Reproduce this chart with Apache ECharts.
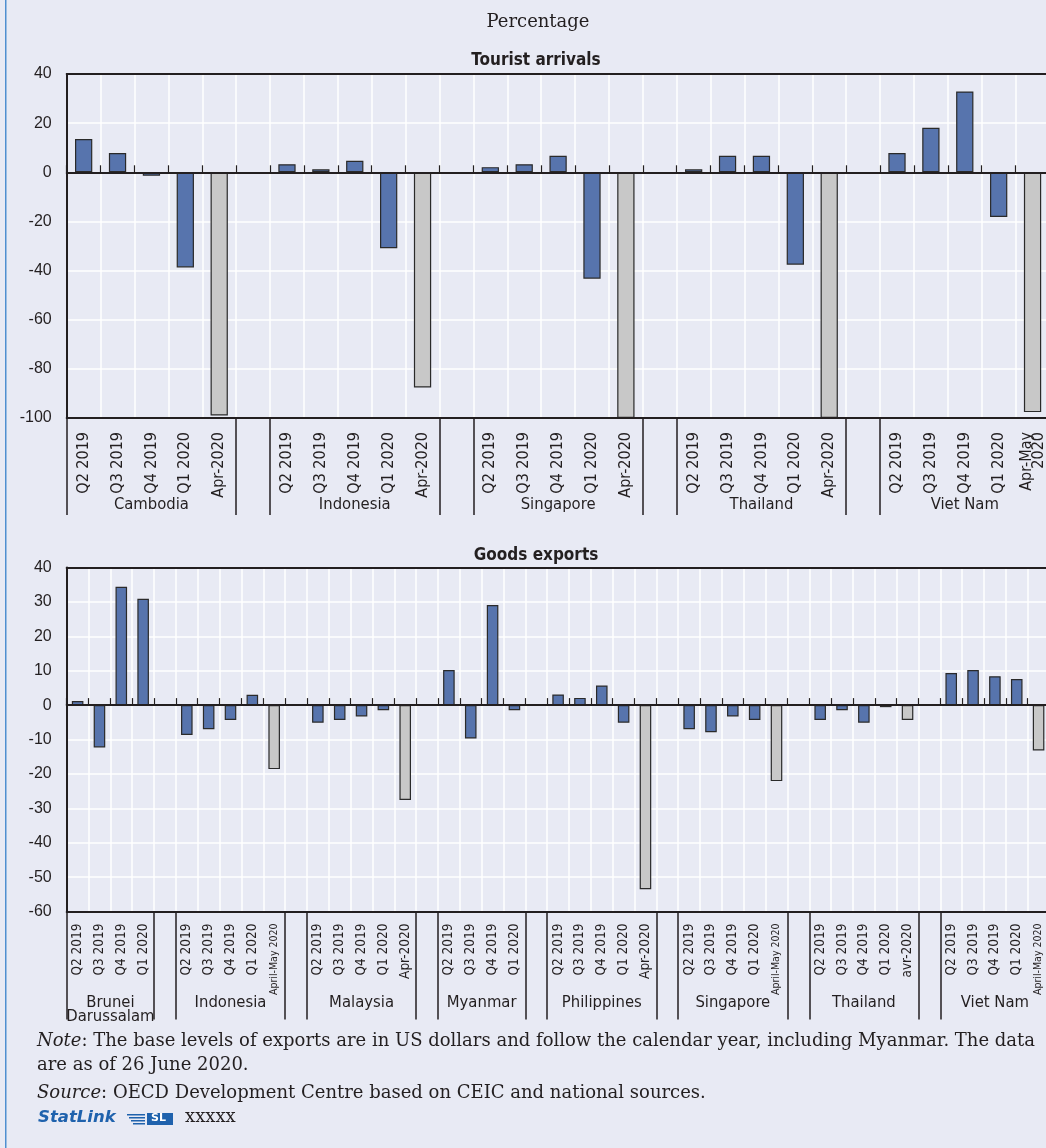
<!DOCTYPE html>
<html><head><meta charset="utf-8">
<script src="https://cdn.jsdelivr.net/npm/echarts@6/dist/echarts.min.js"></script>
<style>html,body{margin:0;padding:0;background:#e8eaf4;} #c{width:1046px;height:1148px;}</style>
</head><body><div id="c"></div>
<script>
// ---------- DATA ----------
const touristGroups = ['Cambodia', 'Indonesia', 'Singapore', 'Thailand', 'Viet Nam'];
const touristPeriods = ['Q2 2019', 'Q3 2019', 'Q4 2019', 'Q1 2020', 'Apr-2020'];
const touristPeriodsVietNam = ['Q2 2019', 'Q3 2019', 'Q4 2019', 'Q1 2020', 'Apr-May\n2020'];
const tourCambodia  = [13.5, 7.8, -1.4, -38.7, -99.0];
const tourIndonesia = [3.3, 1.2, 4.7, -30.9, -87.6];
const tourSingapore = [2.1, 3.3, 6.7, -43.3, -100.0];
const tourThailand  = [1.2, 6.7, 6.7, -37.6, -100.0];
const tourVietNam   = [7.8, 18.1, 32.9, -18.2, -97.6];

const exportGroups = ['Brunei\nDarussalam', 'Indonesia', 'Malaysia', 'Myanmar', 'Philippines', 'Singapore', 'Thailand', 'Viet Nam'];
const periodsBrunei      = ['Q2 2019', 'Q3 2019', 'Q4 2019', 'Q1 2020'];
const periodsIndonesia   = ['Q2 2019', 'Q3 2019', 'Q4 2019', 'Q1 2020', 'April-May 2020'];
const periodsMalaysia    = ['Q2 2019', 'Q3 2019', 'Q4 2019', 'Q1 2020', 'Apr-2020'];
const periodsMyanmar     = ['Q2 2019', 'Q3 2019', 'Q4 2019', 'Q1 2020'];
const periodsPhilippines = ['Q2 2019', 'Q3 2019', 'Q4 2019', 'Q1 2020', 'Apr-2020'];
const periodsSingapore   = ['Q2 2019', 'Q3 2019', 'Q4 2019', 'Q1 2020', 'April-May 2020'];
const periodsThailand    = ['Q2 2019', 'Q3 2019', 'Q4 2019', 'Q1 2020', 'avr-2020'];
const periodsVietNam     = ['Q2 2019', 'Q3 2019', 'Q4 2019', 'Q1 2020', 'April-May 2020'];
const expBrunei      = [1.2, -12.3, 34.4, 30.9];
const expIndonesia   = [-8.7, -7.0, -4.3, 3.0, -18.6];
const expMalaysia    = [-5.1, -4.3, -3.3, -1.5, -27.6];
const expMyanmar     = [10.2, -9.7, 29.1, -1.5];
const expPhilippines = [3.1, 2.1, 5.7, -5.1, -53.5];
const expSingapore   = [-7.0, -7.9, -3.3, -4.3, -22.1];
const expThailand    = [-4.3, -1.5, -5.1, -0.6, -4.3];
const expVietNam     = [9.3, 10.2, 8.4, 7.6, -13.2];

const topYAxis = [-100, 40, 20];   // min, max, interval
const botYAxis = [-60, 40, 10];

// ---------- STYLE ----------
const BLUE = '#5774ad', GREY = '#c8c8c8', DARK = '#231f20', BG = '#e8eaf4';
const NARROW = '"Liberation Sans Narrow","DejaVu Sans Condensed","Liberation Sans",sans-serif';
const SANS = '"Liberation Sans",Arial,sans-serif';
const SERIF = '"DejaVu Serif",serif';
const GL = 66.7, GR = -3.5;

function build(groups, periods, values) {
  const cats = [], vals = [], labelAt = {};
  groups.forEach((g, gi) => {
    if (gi > 0) { cats.push('gap' + gi); vals.push('-'); }
    const start = cats.length;
    periods[gi].forEach((p, pi) => {
      cats.push(gi + '|' + p);
      const grey = !p.startsWith('Q');
      vals.push({ value: values[gi][pi], itemStyle: { color: grey ? GREY : BLUE } });
    });
    const n = periods[gi].length;
    labelAt[cats[start + Math.floor((n - 1) / 2)]] = { name: g, even: n % 2 === 0 };
  });
  return { cats, vals, labelAt };
}

const topData = build(touristGroups,
  [touristPeriods, touristPeriods, touristPeriods, touristPeriods, touristPeriodsVietNam],
  [tourCambodia, tourIndonesia, tourSingapore, tourThailand, tourVietNam]);
const botData = build(exportGroups,
  [periodsBrunei, periodsIndonesia, periodsMalaysia, periodsMyanmar, periodsPhilippines, periodsSingapore, periodsThailand, periodsVietNam],
  [expBrunei, expIndonesia, expMalaysia, expMyanmar, expPhilippines, expSingapore, expThailand, expVietNam]);

const W = 1046;
function axesFor(k, d, sepLen, labelSize, smallSize, labelMargin, groupMargin) {
  const band = (W - GL - GR) / d.cats.length;
  const sepFn = (i) => i === 0 || d.cats[i].startsWith('gap') || (i > 0 && d.cats[i - 1].startsWith('gap'));
  return [
    { type: 'category', gridIndex: k, data: d.cats, position: 'bottom', z: 4,
      axisLine: { onZero: true, lineStyle: { color: DARK, width: 2 } },
      axisTick: { show: true, inside: true, length: 7, interval: 0, lineStyle: { color: DARK, width: 1.2 } },
      axisLabel: { show: false },
      splitLine: { show: true, interval: 0, showMinLine: false, showMaxLine: false, lineStyle: { color: '#ffffff', width: 1.5 } } },
    { type: 'category', gridIndex: k, data: d.cats, position: 'bottom', z: 5,
      axisLine: { onZero: false, lineStyle: { color: DARK, width: 2 } },
      axisTick: { show: true, length: sepLen, interval: sepFn, lineStyle: { color: DARK, width: 1.5 } },
      axisLabel: { interval: 0, rotate: 90, margin: labelMargin, color: DARK, fontFamily: NARROW, fontSize: labelSize, lineHeight: 12,
        formatter: (v) => {
          if (v.startsWith('gap')) return '';
          const p = v.split('|')[1];
          return p.startsWith('April') ? '{s|' + p + '}' : p;
        },
        rich: { s: { fontFamily: NARROW, fontSize: smallSize, color: DARK } } },
      splitLine: { show: false } },
    { type: 'category', gridIndex: k, data: d.cats, position: 'bottom',
      axisLine: { show: false, onZero: false }, axisTick: { show: false }, splitLine: { show: false },
      axisLabel: { interval: 0, margin: groupMargin, color: DARK, fontFamily: NARROW, fontSize: 16.5, lineHeight: 14,
        formatter: (v) => {
          const g = d.labelAt[v];
          if (!g) return '';
          return g.even ? g.name.split('\n').map(s => '{e|' + s + '}').join('\n') : g.name;
        },
        rich: { e: { padding: [0, 0, 0, band], fontFamily: NARROW, fontSize: 16.5, color: DARK, lineHeight: 14 } } } },
    { type: 'category', gridIndex: k, data: d.cats, position: 'top', z: 5,
      axisLine: { show: true, onZero: false, lineStyle: { color: DARK, width: 2 } },
      axisTick: { show: false }, axisLabel: { show: false }, splitLine: { show: false } }
  ];
}

function yAxisFor(k, r) {
  return { type: 'value', gridIndex: k, min: r[0], max: r[1], interval: r[2], z: 1,
    axisLine: { show: true, lineStyle: { color: DARK, width: 2 } }, axisTick: { show: false },
    axisLabel: { fontFamily: SANS, fontSize: 16, color: DARK, margin: 15 },
    splitLine: { show: true, showMinLine: false, showMaxLine: false, lineStyle: { color: '#ffffff', width: 1.5 } } };
}

const chart = echarts.init(document.getElementById('c'), null, { renderer: 'canvas' });
chart.setOption({
  backgroundColor: BG,
  animation: false,
  title: [
    { text: 'Percentage', left: 533, top: 8, textAlign: 'center',
      textStyle: { fontFamily: SERIF, fontWeight: 'normal', fontSize: 18, color: DARK } },
    { text: 'Tourist arrivals', left: 531, top: 47, textAlign: 'center',
      textStyle: { fontFamily: NARROW, fontWeight: 'bold', fontSize: 17, color: DARK } },
    { text: 'Goods exports', left: 531, top: 542, textAlign: 'center',
      textStyle: { fontFamily: NARROW, fontWeight: 'bold', fontSize: 17, color: DARK } }
  ],
  grid: [
    { left: GL, right: GR, top: 74, height: 344, show: false, outerBoundsMode: 'none' },
    { left: GL, right: GR, top: 567.5, height: 344, show: false, outerBoundsMode: 'none' }
  ],
  xAxis: [].concat(axesFor(0, topData, 97, 16, 12, 14, 80), axesFor(1, botData, 108, 13.5, 10.5, 12, 84)),
  yAxis: [yAxisFor(0, topYAxis), yAxisFor(1, botYAxis)],
  series: [
    { type: 'bar', xAxisIndex: 0, yAxisIndex: 0, data: topData.vals, barWidth: '51%',
      itemStyle: { borderColor: '#2a2a2a', borderWidth: 1.2 } },
    { type: 'bar', xAxisIndex: 4, yAxisIndex: 1, data: botData.vals, barWidth: '53%',
      itemStyle: { borderColor: '#2a2a2a', borderWidth: 1.2 } }
  ],
  graphic: [
    { type: 'rect', left: 5, top: 0, shape: { width: 1.5, height: 1148 }, style: { fill: '#4f8fd0' }, silent: true },
    { type: 'text', left: 37, top: 1032, style: { text: '{i|Note}: The base levels of exports are in US dollars and follow the calendar year, including Myanmar. The data',
        font: '18px ' + SERIF, fill: DARK, rich: { i: { fontStyle: 'italic', fontFamily: SERIF, fontSize: 18, fill: DARK } } } },
    { type: 'text', left: 37, top: 1056, style: { text: 'are as of 26 June 2020.', font: '18px ' + SERIF, fill: DARK } },
    { type: 'text', left: 37, top: 1084, style: { text: '{i|Source}: OECD Development Centre based on CEIC and national sources.',
        font: '18px ' + SERIF, fill: DARK, rich: { i: { fontStyle: 'italic', fontFamily: SERIF, fontSize: 18, fill: DARK } } } },
    { type: 'text', left: 38, top: 1109, style: { text: 'StatLink', font: 'italic bold 16.5px "DejaVu Sans",sans-serif', fill: '#1f62ad' } },
    { type: 'group', left: 127, top: 1113, children: [
      { type: 'rect', shape: { x: 0, y: 1, width: 18, height: 1.5 }, style: { fill: '#1f62ad' } },
      { type: 'rect', shape: { x: 2, y: 4, width: 16, height: 1.5 }, style: { fill: '#1f62ad' } },
      { type: 'rect', shape: { x: 4, y: 7, width: 14, height: 1.5 }, style: { fill: '#1f62ad' } },
      { type: 'rect', shape: { x: 6, y: 10, width: 12, height: 1.5 }, style: { fill: '#1f62ad' } },
      { type: 'rect', shape: { x: 20, y: 0, width: 26, height: 12 }, style: { fill: '#1f62ad' } },
      { type: 'text', style: { x: 24, y: 0, text: 'SL', font: 'bold 11px "DejaVu Sans",sans-serif', fill: '#ffffff' } }
    ] },
    { type: 'text', left: 185, top: 1108, style: { text: 'xxxxx', font: '18px ' + SERIF, fill: DARK } }
  ]
});
</script>
</body></html>
